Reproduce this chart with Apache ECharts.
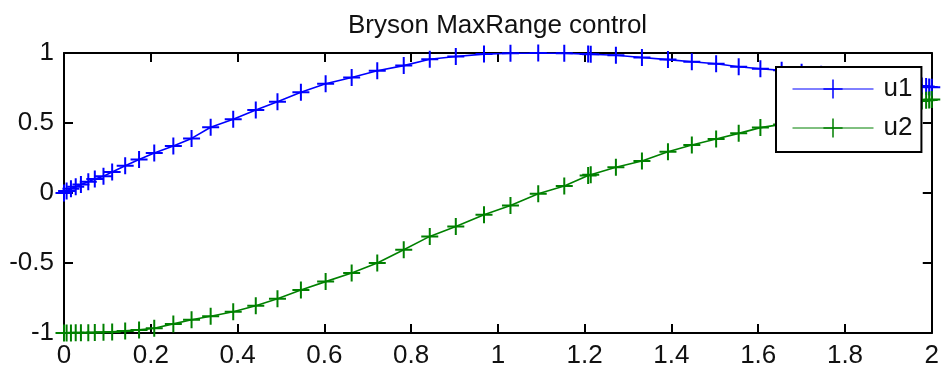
<!DOCTYPE html>
<html>
<head>
<meta charset="utf-8">
<script src="https://cdn.jsdelivr.net/npm/echarts@6/dist/echarts.min.js"></script>
<style>
html,body{margin:0;padding:0;background:#fff;}
#chart{width:942px;height:373px;}
</style>
</head>
<body>
<div id="chart"></div>
<script>
const titleText = 'Bryson MaxRange control';
const seriesNames = ['u1', 'u2'];
const xTicks = { min: 0, max: 2, interval: 0.2 };
const yTicks = { min: -1, max: 1, interval: 0.5 };

const tValues = [0, 0.006, 0.016, 0.027, 0.039, 0.056, 0.071, 0.091, 0.111, 0.141,
  0.173, 0.208, 0.252, 0.294, 0.338, 0.390, 0.442, 0.492, 0.546, 0.603,
  0.663, 0.722, 0.783, 0.843, 0.903, 0.968, 1.029, 1.093, 1.153, 1.208,
  1.214, 1.272, 1.332, 1.392, 1.447, 1.503, 1.555, 1.605, 1.654, 1.700,
  1.745, 1.790, 1.833, 1.872, 1.907, 1.937, 1.960, 1.977, 1.987, 1.994, 2.000];

const u1Values = [0, 0.015, 0.03, 0.045, 0.06, 0.08, 0.1, 0.12, 0.15, 0.195,
  0.24, 0.285, 0.335, 0.39, 0.47, 0.527, 0.593, 0.652, 0.72, 0.78,
  0.825, 0.873, 0.91, 0.955, 0.975, 0.992, 0.998, 1.0, 0.998, 0.992,
  0.991, 0.984, 0.968, 0.953, 0.938, 0.923, 0.902, 0.888, 0.876, 0.862,
  0.848, 0.833, 0.818, 0.804, 0.79, 0.779, 0.771, 0.765, 0.761, 0.758, 0.756];

const u2Values = [-1, -1, -1, -0.999, -0.999, -0.998, -0.997, -0.995, -0.992, -0.985,
  -0.978, -0.966, -0.935, -0.905, -0.88, -0.848, -0.805, -0.755, -0.693, -0.633,
  -0.572, -0.5, -0.405, -0.31, -0.24, -0.155, -0.09, -0.005, 0.05, 0.125,
  0.13, 0.184, 0.228, 0.295, 0.343, 0.386, 0.426, 0.467, 0.49, 0.515,
  0.54, 0.565, 0.59, 0.61, 0.628, 0.642, 0.652, 0.658, 0.662, 0.665, 0.667];

const colors = ['#0000ff', '#008000'];
const FONT = "'Liberation Sans', Arial, sans-serif";
const PLUS = 'path://M10,0L10,20M0,10L20,10';

function zip(xs, ys) { return xs.map((x, i) => [x, ys[i]]); }

function xAxisDef(pos, showLabel) {
  return {
    type: 'value', position: pos, min: xTicks.min, max: xTicks.max, interval: xTicks.interval,
    axisLine: { onZero: false, lineStyle: { color: '#000', width: 2 } },
    axisTick: { inside: true, length: 9, lineStyle: { color: '#000', width: 2 } },
    axisLabel: { show: showLabel, fontSize: 26, color: '#111', fontFamily: FONT, margin: 10 },
    splitLine: { show: false }
  };
}
function yAxisDef(pos, showLabel) {
  return {
    type: 'value', position: pos, min: yTicks.min, max: yTicks.max, interval: yTicks.interval,
    axisLine: { onZero: false, lineStyle: { color: '#000', width: 2 } },
    axisTick: { inside: true, length: 9, lineStyle: { color: '#000', width: 2 } },
    axisLabel: { show: showLabel, fontSize: 26, color: '#111', fontFamily: FONT, margin: 10 },
    splitLine: { show: false }
  };
}

const chart = echarts.init(document.getElementById('chart'), null, { renderer: 'canvas' });
chart.setOption({
  animation: false,
  backgroundColor: '#fff',
  title: {
    text: titleText, left: 343, top: 8,
    textStyle: { fontSize: 26, fontWeight: 'normal', color: '#111', fontFamily: FONT }
  },
  grid: { left: 64, right: 10, top: 53, bottom: 40, containLabel: false },
  xAxis: [xAxisDef('bottom', true), xAxisDef('top', false)],
  yAxis: [yAxisDef('left', true), yAxisDef('right', false)],
  legend: {
    orient: 'vertical', left: 776, top: 67,
    padding: [9, 9, 11, 16],
    itemWidth: 81, itemHeight: 24, itemGap: 13,
    backgroundColor: '#fff', borderColor: '#000', borderWidth: 2, borderRadius: 0,
    textStyle: { fontSize: 26, color: '#111', fontFamily: FONT, padding: [0, 0, 0, 5] },
    lineStyle: { width: 1 },
    itemStyle: { borderWidth: 1.5 },
    data: seriesNames
  },
  series: [
    {
      name: seriesNames[0], type: 'line', xAxisIndex: 0, yAxisIndex: 0,
      data: zip(tValues, u1Values),
      symbol: PLUS, symbolSize: 17, showSymbol: true,
      lineStyle: { color: colors[0], width: 1.6 },
      itemStyle: { color: colors[0], borderColor: colors[0], borderWidth: 2 },
      emphasis: { disabled: true }
    },
    {
      name: seriesNames[1], type: 'line', xAxisIndex: 0, yAxisIndex: 0,
      data: zip(tValues, u2Values),
      symbol: PLUS, symbolSize: 17, showSymbol: true,
      lineStyle: { color: colors[1], width: 1.6 },
      itemStyle: { color: colors[1], borderColor: colors[1], borderWidth: 2 },
      emphasis: { disabled: true }
    }
  ]
});
</script>
</body>
</html>
